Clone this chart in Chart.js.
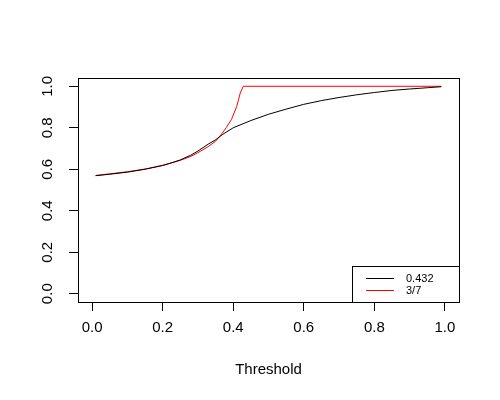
<!DOCTYPE html>
<html>
<head>
<meta charset="utf-8">
<script src="https://cdn.jsdelivr.net/npm/chart.js@4/dist/chart.umd.min.js"></script>
<style>
    body { margin: 0; background: #fff; }
    #wrap { width: 500px; height: 400px; }
</style>
</head>
<body>
<div id="wrap"><canvas id="rocChart" width="500" height="400"></canvas></div>
<script>
// threshold -> value
const blackX = [0.01, 0.05, 0.10, 0.15, 0.20, 0.22, 0.25, 0.28, 0.30, 0.33, 0.35, 0.37, 0.40, 0.45, 0.50, 0.55, 0.60, 0.65, 0.70, 0.75, 0.80, 0.85, 0.90, 0.95, 0.99];
const blackY = [0.569, 0.576, 0.586, 0.600, 0.618, 0.628, 0.645, 0.668, 0.688, 0.722, 0.742, 0.768, 0.800, 0.835, 0.865, 0.890, 0.913, 0.931, 0.946, 0.959, 0.970, 0.980, 0.987, 0.993, 0.998];

const redX = [0.01, 0.05, 0.10, 0.15, 0.20, 0.25, 0.28, 0.30, 0.33, 0.35, 0.367, 0.38, 0.395, 0.41, 0.42, 0.4286, 0.99];
const redY = [0.570, 0.578, 0.588, 0.601, 0.619, 0.643, 0.662, 0.680, 0.710, 0.735, 0.770, 0.800, 0.840, 0.903, 0.968, 1.0, 1.0];

const legendLabels = ['0.432', '3/7'];
const xTicks = [0, 0.2, 0.4, 0.6, 0.8, 1.0];
const yTicks = [0, 0.2, 0.4, 0.6, 0.8, 1.0];

const FONT = '"Liberation Sans", Arial, sans-serif';

function toPoints(xs, ys) {
    return xs.map((x, i) => ({ x: x, y: ys[i] }));
}

// box round the plot area plus the R-style legend in the bottom right corner
const boxPlugin = {
    id: 'boxPlugin',
    afterDraw(chart) {
        const ctx = chart.ctx;
        const a = chart.chartArea;
        ctx.save();
        ctx.strokeStyle = '#000';
        ctx.lineWidth = 1;
        ctx.strokeRect(Math.round(a.left) + 0.5, Math.round(a.top) + 0.5,
            Math.round(a.right - a.left), Math.round(a.bottom - a.top));

        const lx = 352.5, ly = 266.5;
        ctx.strokeRect(lx, ly, Math.round(a.right) - lx + 0.5, Math.round(a.bottom) - ly + 0.5);
        ctx.font = '11px ' + FONT;
        ctx.textBaseline = 'middle';
        chart.data.datasets.forEach((ds, i) => {
            const y = 278.5 + i * 12;
            ctx.strokeStyle = ds.borderColor;
            ctx.beginPath();
            ctx.moveTo(366, y);
            ctx.lineTo(394, y);
            ctx.stroke();
            ctx.fillStyle = '#000';
            ctx.fillText(ds.label, 406, y);
        });
        ctx.restore();
    }
};

let chart;

function initChart() {
    const ctx = document.getElementById('rocChart').getContext('2d');
    chart = new Chart(ctx, {
        type: 'line',
        data: {
            datasets: [{
                label: legendLabels[0],
                data: toPoints(blackX, blackY),
                borderColor: '#000000',
                borderWidth: 1,
                pointRadius: 0,
                tension: 0
            }, {
                label: legendLabels[1],
                data: toPoints(redX, redY),
                borderColor: '#ff0000',
                borderWidth: 1,
                pointRadius: 0,
                tension: 0
            }]
        },
        options: {
            responsive: false,
            animation: false,
            layout: { padding: { top: 78, right: 41, left: 0, bottom: 0 } },
            plugins: {
                legend: { display: false },
                tooltip: { enabled: false }
            },
            scales: {
                x: {
                    type: 'linear',
                    min: -0.04,
                    max: 1.04,
                    afterFit(scale) { scale.height = 98; },
                    afterBuildTicks(scale) { scale.ticks = xTicks.map(v => ({ value: v })); },
                    border: { display: true, color: '#000' },
                    grid: { drawOnChartArea: false, drawTicks: true, tickLength: 9, color: '#000' },
                    ticks: {
                        color: '#000',
                        padding: 8,
                        maxRotation: 0,
                        font: { family: FONT, size: 15 },
                        callback: v => v.toFixed(1)
                    },
                    title: {
                        display: true,
                        text: 'Threshold',
                        color: '#000',
                        font: { family: FONT, size: 15 },
                        padding: { top: 0, bottom: 21 }
                    }
                },
                y: {
                    min: -0.04,
                    max: 1.04,
                    afterFit(scale) { scale.width = 78; },
                    afterBuildTicks(scale) { scale.ticks = yTicks.map(v => ({ value: v })); },
                    border: { display: true, color: '#000' },
                    grid: { drawOnChartArea: false, drawTicks: true, tickLength: 9, color: '#000' },
                    ticks: {
                        color: '#000',
                        padding: 11,
                        minRotation: 90,
                        maxRotation: 90,
                        crossAlign: 'center',
                        font: { family: FONT, size: 15 },
                        callback: v => v.toFixed(1)
                    }
                }
            }
        },
        plugins: [boxPlugin]
    });
}

initChart();
</script>
</body>
</html>
